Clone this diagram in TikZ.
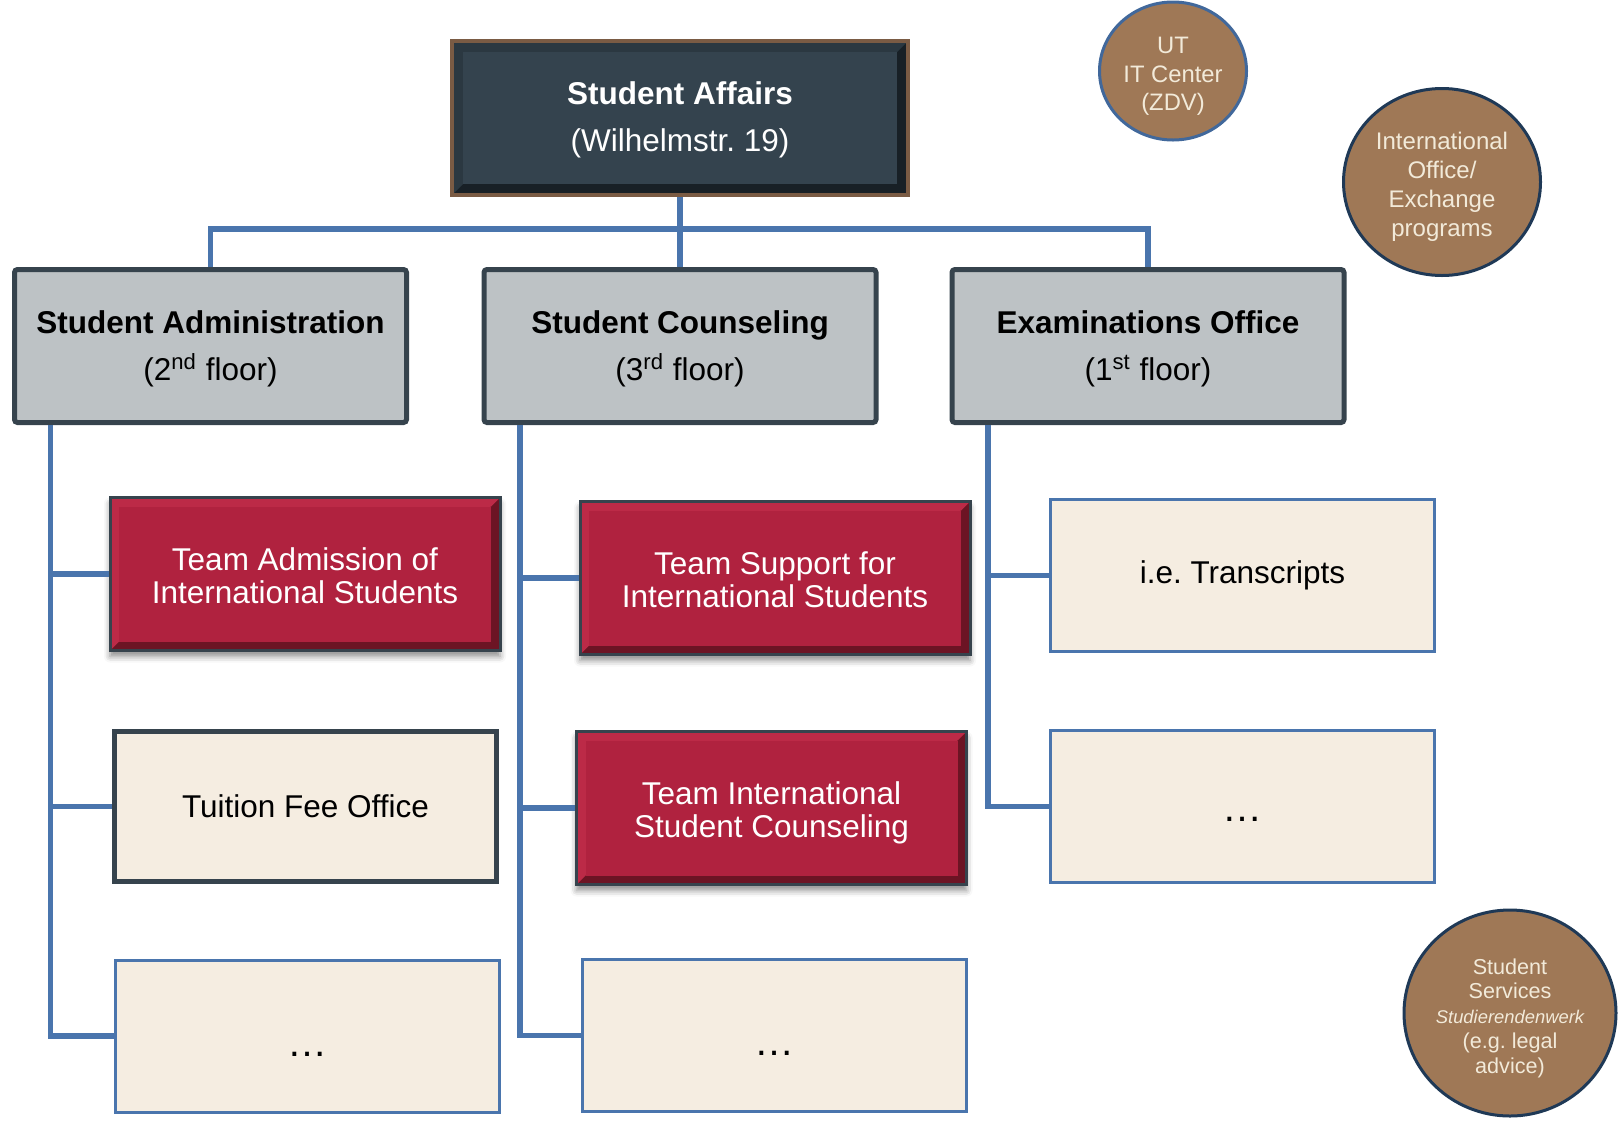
\documentclass[tikz,border=0pt]{standalone}
\usepackage{fontspec}
\setmainfont{Liberation Sans}
\usetikzlibrary{calc,shapes.geometric,shadows.blur}
\definecolor{slate}{HTML}{34434E}
\definecolor{slatedark}{HTML}{182026}
\definecolor{slatelight}{HTML}{2B3841}
\definecolor{brownedge}{HTML}{7A5B44}
\definecolor{panegray}{HTML}{BDC2C5}
\definecolor{darkedge}{HTML}{36434D}
\definecolor{teamred}{HTML}{B0223F}
\definecolor{teamreddark}{HTML}{6C1424}
\definecolor{teamredlight}{HTML}{BC2A47}
\definecolor{beige}{HTML}{F5EDE1}
\definecolor{linkblue}{HTML}{4A75AD}
\definecolor{orbfill}{HTML}{9F7856}
\definecolor{orbtext}{HTML}{F2EAD9}
\definecolor{navy}{HTML}{1F3956}
\definecolor{utblue}{HTML}{41689B}
\frenchspacing
\begin{document}
\begin{tikzpicture}[x=0.5pt,y=-0.5pt,
	conn/.style={draw=linkblue,line width=2.6pt},
	bevel/.style n args={4}{path picture={
		\coordinate (bl) at (path picture bounding box.south west);
		\coordinate (tr) at (path picture bounding box.north east);
		\fill[#2] (bl) rectangle (tr);
		\fill[#1] (bl) -- (bl|-tr) -- (tr) -- ($(tr)+(-#4,-#4)$) -- ($(bl)+(#4,#4)$) -- cycle;
		\fill[#3] ($(bl)+(#4,#4)$) rectangle ($(tr)+(-#4,-#4)$);}},
	head/.style={minimum width=228pt,minimum height=77pt,draw=brownedge,line width=2pt,
		fill=slate,text=white,align=center,bevel={slatelight}{slatedark}{slate}{5.5pt},
		font=\fontsize{15.75}{23.25}\selectfont,text height=33.4pt,text depth=0pt},
	dept/.style={minimum width=196pt,minimum height=76.5pt,draw=darkedge,line width=2.5pt,
		fill=panegray,rounded corners=1.5pt,align=center,font=\fontsize{15.75}{23.25}\selectfont,
		text height=34.2pt,text depth=0pt},
	team/.style={minimum width=195pt,minimum height=76.5pt,draw=darkedge,line width=1.5pt,
		fill=teamred,text=white,align=center,bevel={teamredlight}{teamreddark}{teamred}{4.5pt},
		blur shadow={shadow xshift=0pt,shadow yshift=-3pt,shadow blur radius=3pt,shadow opacity=45},
		font=\fontsize{15.75}{16.5}\selectfont,text height=29.4pt,text depth=0pt},
	unit/.style={minimum width=192pt,minimum height=76pt,draw=linkblue,line width=1.5pt,
		fill=beige,align=center,font=\fontsize{15.75}{16.5}\selectfont},
	more/.style={font=\fontsize{20}{20}\selectfont},
	orb/.style={ellipse,inner sep=0pt,fill=orbfill,line width=1.5pt,text=orbtext,align=center,text depth=0pt}]
\useasboundingbox (0,0) rectangle (1621,1120);
% head and departments
\node[head] (aff) at (680,118) {\textbf{Student Affairs}\\(Wilhelmstr. 19)};
\node[dept] (adm) at (210.5,346) {\textbf{Student Administration}\\(2\textsuperscript{nd} floor)};
\node[dept] (cou) at (680,346) {\textbf{Student Counseling}\\(3\textsuperscript{rd} floor)};
\node[dept] (exa) at (1148,346) {\textbf{Examinations Office}\\(1\textsuperscript{st} floor)};
\coordinate (bus) at (680,229);
\draw[conn] (aff) -- (bus) (adm.north) |- (bus) -| (exa.north) (bus) -- (cou.north);
% teams and offices
\node[team] (adm1) at (305,574) {Team Admission of\\International Students};
\node[unit,draw=darkedge,line width=2.5pt,minimum width=191pt,minimum height=75pt] (adm2) at (305.5,806.5) {Tuition Fee Office};
\node[unit,more] (adm3) at (307,1036) {\raisebox{-10pt}[0pt][0pt]{…}};
\node[team] (cou1) at (775,578) {Team Support for\\International Students};
\node[team] (cou2) at (771.5,808) {Team International\\Student Counseling};
\node[unit,more] (cou3) at (774,1035.5) {\raisebox{-10pt}[0pt][0pt]{…}};
\node[unit] (exa1) at (1242.5,575.5) {i.e. Transcripts};
\node[unit,more] (exa2) at (1242.5,806.5) {\raisebox{-7.5pt}[0pt][0pt]{…}};
\coordinate (sp1) at ($(adm.south west)+(38.5,0)$);
\coordinate (sp2) at ($(cou.south west)+(38.5,0)$);
\coordinate (sp3) at ($(exa.south west)+(38.5,0)$);
\foreach \c in {adm1,adm2,adm3}{\draw[conn] (sp1) |- (\c.west);}
\foreach \c in {cou1,cou2,cou3}{\draw[conn] (sp2) |- (\c.west);}
\foreach \c in {exa1,exa2}{\draw[conn] (sp3) |- (\c.west);}
% partners
\node[orb,draw=utblue,minimum width=73.5pt,minimum height=69pt,font=\fontsize{11.9}{14.2}\selectfont,text height=39.4pt] (zdv) at (1173,71) {UT\\IT Center\\(ZDV)};
\node[orb,draw=navy,minimum width=98.5pt,minimum height=93.5pt,font=\fontsize{12}{14.5}\selectfont,text height=54.8pt] (io) at (1442,182) {International\\Office/\\Exchange\\programs};
\node[orb,draw=navy,minimum width=106pt,minimum height=103pt,font=\fontsize{10.8}{12.4}\selectfont,text height=60.2pt] (sw) at (1510,1013) {Student\\Services\\{\fontsize{9.2}{12.4}\selectfont\itshape Studierendenwerk}\\(e.g. legal\\advice)};
\end{tikzpicture}
\end{document}
